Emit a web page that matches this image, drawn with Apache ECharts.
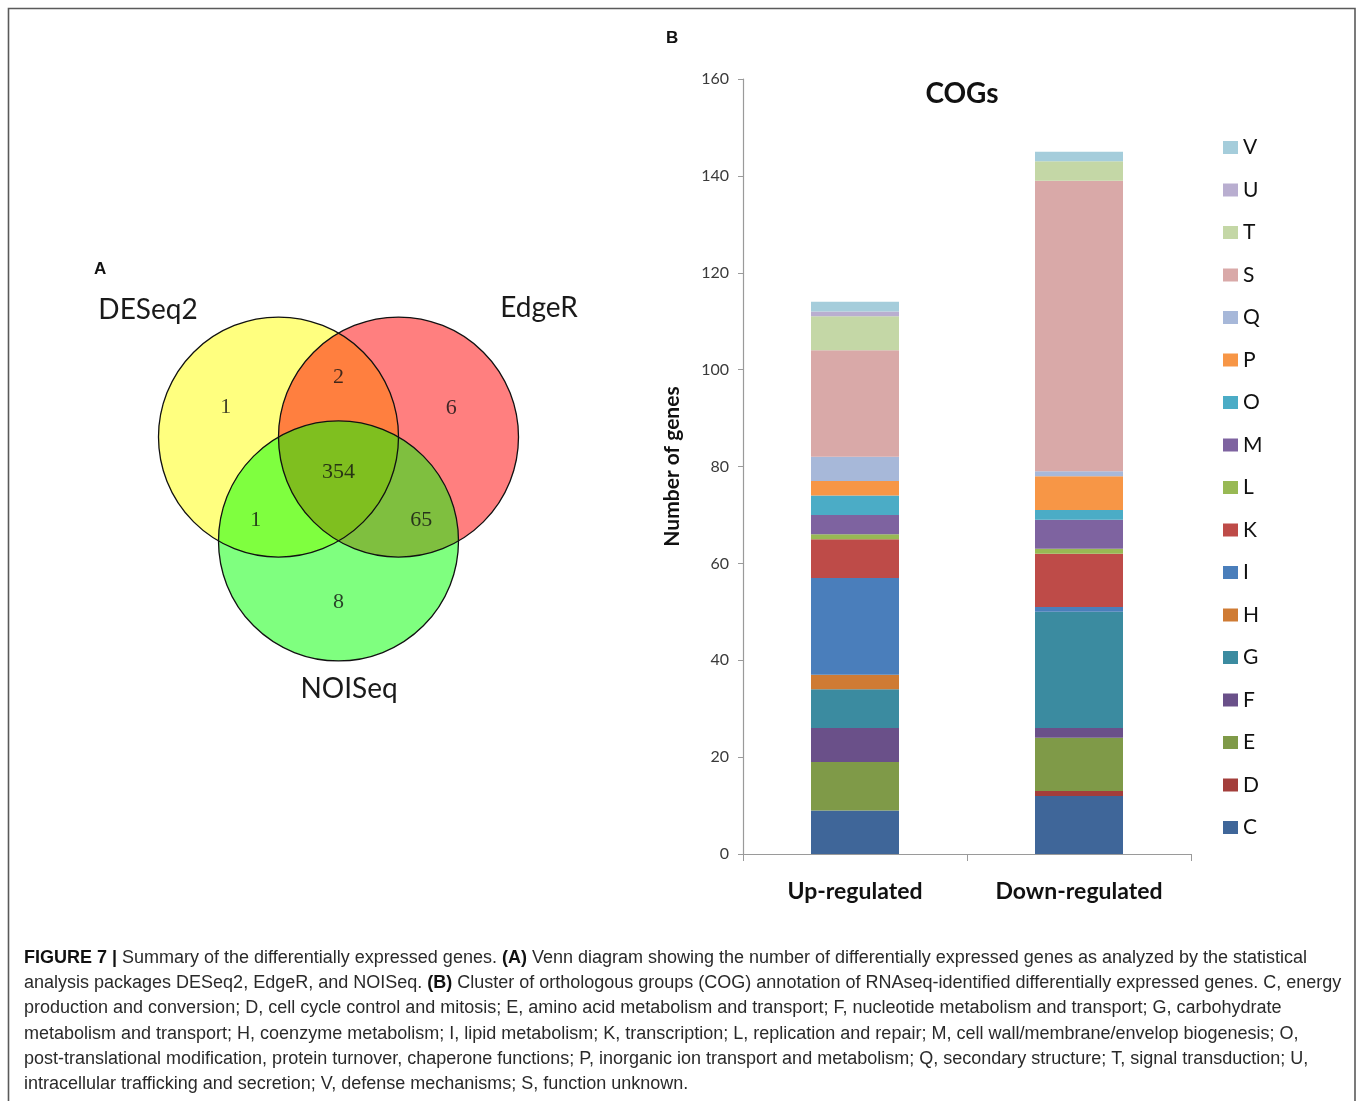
<!DOCTYPE html>
<html>
<head>
<meta charset="utf-8">
<title>Figure 7 – differentially expressed genes</title>
<script src="https://cdn.jsdelivr.net/npm/echarts@6/dist/echarts.min.js"></script>
<style>
  html, body { margin: 0; padding: 0; background: #ffffff; }
  #chart { width: 1357px; height: 1101px; }
</style>
</head>
<body>
<div id="chart"></div>
<script>
// ---- Panel B data: COG category counts per regulation group ----
const groups = ['Up-regulated', 'Down-regulated'];
const cogCodes = ['C', 'D', 'E', 'F', 'G', 'H', 'I', 'K', 'L', 'M', 'O', 'P', 'Q', 'S', 'T', 'U', 'V'];
const upRegulated   = [9, 0, 10, 7, 8, 3, 20, 8, 1, 4, 4, 3, 5, 22, 7, 1, 2];
const downRegulated = [12, 1, 11, 2, 24, 0, 1, 11, 1, 6, 2, 7, 1, 60, 4, 0, 2];
const yAxisMax = 160;
const yAxisStep = 20;

// ---- Panel A data: Venn diagram region counts ----
const vennSets = ['DESeq2', 'EdgeR', 'NOISeq'];
const vennRegions = ['DESeq2 only', 'DESeq2 & EdgeR', 'EdgeR only', 'all three',
                     'DESeq2 & NOISeq', 'EdgeR & NOISeq', 'NOISeq only'];
const vennCounts = [1, 2, 6, 354, 1, 65, 8];

// ---- Styling ----
const cogColors = ['#3f6699', '#a33e3b', '#7f9a48', '#6a5089', '#3b8ba0', '#cf7b34', '#4a7ebb',
                   '#be4b48', '#98b954', '#7e63a0', '#4bacc6', '#f79646', '#a7b8d9', '#d9a9a8',
                   '#c4d7a6', '#b9aed0', '#a5cddb'];
const vennFills = ['rgba(255,255,0,0.5)', 'rgba(255,0,0,0.5)', 'rgba(0,255,0,0.5)'];

// Venn geometry in circle-radius units (classic symmetric three-set layout)
const vennCircles = [[-0.5, 0], [0.5, 0], [0, -0.866]];
const vennAnchors = [[-0.94, 0.25], [0, 0.5], [0.94, 0.24], [0, -0.29],
                     [-0.69, -0.69], [0.69, -0.69], [0, -1.375]];

const chart = echarts.init(document.getElementById('chart'), null, { renderer: 'canvas' });

const barSeries = cogCodes.map((code, i) => ({
  name: code,
  type: 'bar',
  stack: 'cog',
  xAxisIndex: 0,
  yAxisIndex: 0,
  barWidth: 88,
  itemStyle: { color: cogColors[i] },
  emphasis: { disabled: true },
  data: [upRegulated[i], downRegulated[i]]
}));

const circleData = vennCircles.map((c, i) => [c[0], c[1], 1, i]);

function circleRenderer(withFill) {
  return function (params, api) {
    const c = api.coord([api.value(0), api.value(1)]);
    const r = api.size([api.value(2), 0])[0];
    const idx = api.value(3);
    return {
      type: 'circle',
      shape: { cx: c[0], cy: c[1], r: r },
      style: withFill
        ? { fill: vennFills[idx], stroke: null }
        : { fill: null, stroke: '#111111', lineWidth: 1.3 }
    };
  };
}

const captionLines = [
  '{b|FIGURE 7 |} Summary of the differentially expressed genes. {b|(A)} Venn diagram showing the number of differentially expressed genes as analyzed by the statistical',
  'analysis packages DESeq2, EdgeR, and NOISeq. {b|(B)} Cluster of orthologous groups (COG) annotation of RNAseq-identified differentially expressed genes. C, energy',
  'production and conversion; D, cell cycle control and mitosis; E, amino acid metabolism and transport; F, nucleotide metabolism and transport; G, carbohydrate',
  'metabolism and transport; H, coenzyme metabolism; I, lipid metabolism; K, transcription; L, replication and repair; M, cell wall/membrane/envelop biogenesis; O,',
  'post-translational modification, protein turnover, chaperone functions; P, inorganic ion transport and metabolism; Q, secondary structure; T, signal transduction; U,',
  'intracellular trafficking and secretion; V, defense mechanisms; S, function unknown.'
];

const captionFont = { fontFamily: '"Liberation Sans", Arial, sans-serif', fontSize: 18 };
const graphics = [
  // figure frame
  { type: 'rect', shape: { x: 8.5, y: 8.5, width: 1346.5, height: 1110 },
    style: { fill: null, stroke: '#5a5a5a', lineWidth: 1.6 }, silent: true },
  // panel letters
  { type: 'text', x: 94, y: 261, style: { text: 'A', font: 'bold 17px "Liberation Sans", Arial, sans-serif', fill: '#111' } },
  { type: 'text', x: 666, y: 30, style: { text: 'B', font: 'bold 17px "Liberation Sans", Arial, sans-serif', fill: '#111' } },
  // Venn set names
  { type: 'text', x: 148, y: 310, style: { text: vennSets[0], font: '28px Lato, sans-serif', fill: '#1a1a1a', textAlign: 'center', textVerticalAlign: 'middle' } },
  { type: 'text', x: 539, y: 308, style: { text: vennSets[1], font: '28px Lato, sans-serif', fill: '#1a1a1a', textAlign: 'center', textVerticalAlign: 'middle' } },
  { type: 'text', x: 349, y: 689, style: { text: vennSets[2], font: '28px Lato, sans-serif', fill: '#1a1a1a', textAlign: 'center', textVerticalAlign: 'middle' } },
  // chart title of panel B
  { type: 'text', x: 962, y: 94, style: { text: 'COGs', font: 'bold 28px Lato, sans-serif', fill: '#111', textAlign: 'center', textVerticalAlign: 'middle' } }
];
captionLines.forEach((line, i) => {
  graphics.push({
    type: 'text', x: 24, y: 958 + i * 25.2,
    style: {
      text: line,
      fontFamily: captionFont.fontFamily,
      fontSize: captionFont.fontSize,
      fill: '#2a2a2a',
      textVerticalAlign: 'middle',
      rich: { b: { fontWeight: 'bold', fontFamily: captionFont.fontFamily, fontSize: captionFont.fontSize, fill: '#111' } }
    }
  });
});

const option = {
  animation: false,
  backgroundColor: '#ffffff',
  grid: [
    { left: 743, right: 166, top: 79, bottom: 247, containLabel: false },
    { left: 158.5, top: 317, width: 360, height: 344, containLabel: false }
  ],
  xAxis: [
    {
      type: 'category', gridIndex: 0, data: groups,
      axisLine: { lineStyle: { color: '#9a9a9a', width: 1.2 } },
      axisTick: { show: true, alignWithLabel: false, length: 7, lineStyle: { color: '#9a9a9a' } },
      axisLabel: { fontFamily: 'Lato, sans-serif', fontWeight: 'bold', fontSize: 23, color: '#111', margin: 26 }
    },
    { type: 'value', gridIndex: 1, min: -1.5, max: 1.5, show: false }
  ],
  yAxis: [
    {
      type: 'value', gridIndex: 0, min: 0, max: yAxisMax, interval: yAxisStep,
      name: 'Number of genes', nameLocation: 'middle', nameRotate: 90, nameGap: 60,
      nameTextStyle: { fontFamily: 'Lato, sans-serif', fontWeight: 'bold', fontSize: 21, color: '#111' },
      axisLine: { show: true, lineStyle: { color: '#9a9a9a', width: 1.2 } },
      axisTick: { show: true, length: 5, lineStyle: { color: '#9a9a9a' } },
      splitLine: { show: false },
      axisLabel: { fontFamily: 'Lato, sans-serif', fontSize: 16, color: '#3a3a3a', margin: 14 }
    },
    { type: 'value', gridIndex: 1, min: -1.866, max: 1, show: false }
  ],
  legend: {
    orient: 'vertical',
    left: 1218, top: 132,
    data: cogCodes.slice().reverse(),
    itemWidth: 15, itemHeight: 13, itemGap: 21.5,
    icon: 'rect',
    selectedMode: false,
    textStyle: { fontFamily: 'Lato, sans-serif', fontSize: 21, color: '#111', lineHeight: 20, padding: [0, 0, 0, 0] }
  },
  graphic: graphics,
  series: barSeries.concat([
    {
      type: 'custom', name: 'venn-fill', xAxisIndex: 1, yAxisIndex: 1,
      renderItem: circleRenderer(true), data: circleData, clip: false, silent: true
    },
    {
      type: 'custom', name: 'venn-edge', xAxisIndex: 1, yAxisIndex: 1,
      renderItem: circleRenderer(false), data: circleData, clip: false, silent: true
    },
    {
      type: 'scatter', name: 'venn-counts', xAxisIndex: 1, yAxisIndex: 1,
      symbolSize: 0, silent: true, clip: false,
      data: vennCounts.map((n, i) => ({ name: vennRegions[i], value: [vennAnchors[i][0], vennAnchors[i][1], n] })),
      label: {
        show: true, position: 'inside',
        formatter: p => String(p.value[2]),
        fontFamily: '"Liberation Serif", "Times New Roman", serif', fontSize: 22, color: '#111'
      }
    }
  ])
};

chart.setOption(option);
</script>
</body>
</html>
